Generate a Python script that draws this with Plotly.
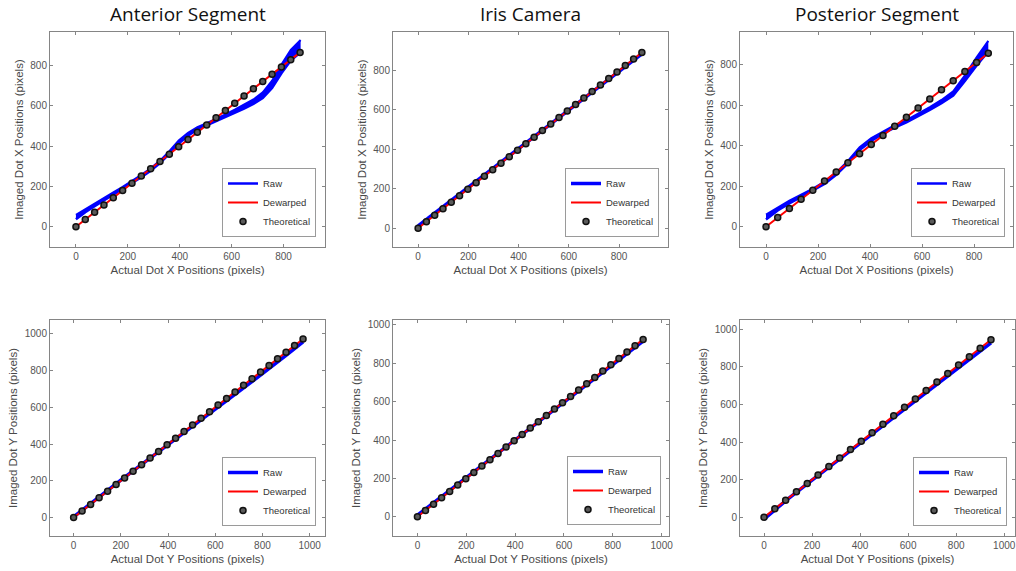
import plotly.graph_objects as go

# ---------------- data ----------------
# Anterior segment, X
ant_x_theo = [0, 36, 72, 108, 144, 180, 216, 252, 288, 324, 360, 396, 432, 468, 504,
              540, 576, 612, 648, 684, 720, 756, 792, 828, 864]
ant_x_raw_x = [0, 36, 72, 108, 144, 180, 216, 252, 288, 324, 360, 396, 432, 468, 504,
               540, 576, 612, 648, 684, 720, 756, 792, 828, 866]
ant_x_raw_lo = [37, 72, 102, 130, 159, 186, 214, 246, 278, 316, 361, 412, 451, 482, 502,
                522, 543, 564, 586, 609, 638, 688, 760, 824, 865]
ant_x_raw_hi = [59, 88, 114, 142, 171, 198, 226, 258, 290, 328, 375, 428, 465, 494, 514,
                534, 557, 580, 604, 631, 666, 724, 804, 876, 925]

# Iris camera, X
iris_x_theo = [0, 33, 66, 99, 132, 165, 198, 231, 264, 297, 330, 363, 396, 429, 462,
               495, 528, 561, 594, 627, 660, 693, 726, 759, 792, 825, 858, 891]
iris_x_raw_x = [0, 100, 200, 300, 400, 500, 600, 700, 800, 891]
iris_x_raw_y = [12, 110, 207, 305, 403, 500, 598, 696, 793, 884]

# Posterior segment, X
post_x_theo = [0, 45, 90, 135, 180, 225, 270, 315, 360, 405, 450, 495, 540, 585, 630,
               675, 720, 765, 810, 855]
post_x_raw_x = [0, 45, 90, 135, 180, 225, 270, 315, 360, 405, 450, 495, 540, 585, 630,
                675, 720, 765, 810, 855]
post_x_raw_lo = [36, 80, 115, 146, 176, 211, 256, 312, 378, 423, 459, 489, 514, 544, 576,
                 609, 647, 718, 795, 864]
post_x_raw_hi = [60, 96, 129, 158, 188, 223, 268, 324, 392, 437, 471, 501, 526, 556, 590,
                 625, 667, 746, 835, 916]

# Anterior segment, Y
ant_y_theo = [0, 36, 72, 108, 144, 180, 216, 252, 288, 324, 360, 396, 432, 468, 504,
              540, 576, 612, 648, 684, 720, 756, 792, 828, 864, 900, 936, 972]
ant_y_raw_x = [0, 100, 200, 300, 400, 500, 600, 700, 800, 900, 972]
ant_y_raw_y = [4, 106, 204, 300, 396, 492, 589, 686, 783, 882, 956]

# Iris camera, Y
iris_y_theo = [0, 33, 66, 99, 132, 165, 198, 231, 264, 297, 330, 363, 396, 429, 462,
               495, 528, 561, 594, 627, 660, 693, 726, 759, 792, 825, 858, 891, 924]
iris_y_raw_x = [0, 100, 200, 300, 400, 500, 600, 700, 800, 924]
iris_y_raw_y = [8, 107, 205, 303, 401, 499, 597, 695, 793, 915]

# Posterior segment, Y
post_y_theo = [0, 45, 90, 135, 180, 225, 270, 315, 360, 405, 450, 495, 540, 585, 630,
               675, 720, 765, 810, 855, 900, 945]
post_y_raw_x = [0, 100, 200, 300, 400, 500, 600, 700, 800, 900, 945]
post_y_raw_y = [-10, 98, 198, 296, 394, 491, 588, 684, 782, 880, 928]

titles = ["Anterior Segment", "Iris Camera", "Posterior Segment"]
x_label_top = "Actual Dot X Positions (pixels)"
y_label_top = "Imaged Dot X Positions (pixels)"
x_label_bot = "Actual Dot Y Positions (pixels)"
y_label_bot = "Imaged Dot Y Positions (pixels)"

# ---------------- styling ----------------
W, H = 1016, 571
BLUE = "#0000ff"
RED = "#ff0000"
AXC = "#858585"
TICKC = "#555555"
LABC = "#4a4a4a"
FONT = "Liberation Sans, Arial, sans-serif"

# pixel boxes: (left, right, top, bottom)
boxes = [
    (50, 325, 32, 247), (393, 668, 32, 247), (740, 1013, 32, 247),
    (50, 325, 320, 536), (393, 669, 320, 536), (740, 1015, 320, 536),
]
ranges = [
    ([-100, 960], [-100, 965]),
    ([-100, 995], [-95, 995]),
    ([-100, 950], [-100, 960]),
    ([-100, 1065], [-100, 1075]),
    ([-100, 1030], [-100, 1025]),
    ([-100, 1045], [-100, 1050]),
]
xticks = [[0, 200, 400, 600, 800]] * 3 + [[0, 200, 400, 600, 800, 1000]] * 3
yticks = [[0, 200, 400, 600, 800]] * 3 + [[0, 200, 400, 600, 800, 1000]] * 3
legend_pos = [(316, 237), (659, 237), (1005, 237), (316, 526), (661, 525), (1007, 526)]

fig = go.Figure()

panels = [
    dict(theo=ant_x_theo, band=(ant_x_raw_x, ant_x_raw_lo, ant_x_raw_hi)),
    dict(theo=iris_x_theo, line=(iris_x_raw_x, iris_x_raw_y)),
    dict(theo=post_x_theo, band=(post_x_raw_x, post_x_raw_lo, post_x_raw_hi)),
    dict(theo=ant_y_theo, line=(ant_y_raw_x, ant_y_raw_y)),
    dict(theo=iris_y_theo, line=(iris_y_raw_x, iris_y_raw_y)),
    dict(theo=post_y_theo, line=(post_y_raw_x, post_y_raw_y)),
]

for i, p in enumerate(panels):
    n = i + 1
    xa = "x" if n == 1 else f"x{n}"
    ya = "y" if n == 1 else f"y{n}"
    lg = "legend" if n == 1 else f"legend{n}"
    if "band" in p:
        bx, blo, bhi = p["band"]
        fig.add_trace(go.Scatter(x=bx, y=blo, mode="lines", name="Raw",
                                 line=dict(color=BLUE, width=2.5),
                                 xaxis=xa, yaxis=ya, legend=lg, legendrank=1))
        fig.add_trace(go.Scatter(x=bx, y=bhi, mode="lines", name="Raw",
                                 line=dict(color=BLUE, width=2), fill="tonexty",
                                 fillcolor=BLUE, showlegend=False,
                                 xaxis=xa, yaxis=ya, legend=lg))
    else:
        rx, ry = p["line"]
        fig.add_trace(go.Scatter(x=rx, y=ry, mode="lines", name="Raw",
                                 line=dict(color=BLUE, width=3.5),
                                 xaxis=xa, yaxis=ya, legend=lg, legendrank=1))
    t = p["theo"]
    fig.add_trace(go.Scatter(x=t, y=t, mode="lines", name="Dewarped",
                             line=dict(color=RED, width=2),
                             xaxis=xa, yaxis=ya, legend=lg, legendrank=2))
    fig.add_trace(go.Scatter(x=t, y=t, mode="markers", name="Theoretical",
                             marker=dict(symbol="circle", size=6, color="#5a5a5a",
                                         line=dict(color="#111111", width=1.5)),
                             xaxis=xa, yaxis=ya, legend=lg, legendrank=3))

layout = dict(
    width=W, height=H,
    margin=dict(l=0, r=0, t=0, b=0),
    paper_bgcolor="white", plot_bgcolor="white",
    font=dict(family=FONT, size=10, color=TICKC),
)

for i in range(6):
    n = i + 1
    l, r, t, b = boxes[i]
    xr, yr = ranges[i]
    top = i < 3
    axcommon = dict(showline=True, linecolor=AXC, linewidth=1, mirror="ticks",
                    ticks="inside", ticklen=3, tickcolor=AXC, tickwidth=1,
                    showgrid=False, zeroline=False, automargin=False,
                    tickfont=dict(family=FONT, size=10, color=TICKC))
    xkey = "xaxis" if n == 1 else f"xaxis{n}"
    ykey = "yaxis" if n == 1 else f"yaxis{n}"
    layout[xkey] = dict(axcommon, domain=[l / W, r / W], range=xr,
                        tickvals=xticks[i], anchor="y" if n == 1 else f"y{n}",
                        title=dict(text=x_label_top if top else x_label_bot,
                                   font=dict(family=FONT, size=11.5, color=LABC),
                                   standoff=4))
    layout[ykey] = dict(axcommon, domain=[1 - b / H, 1 - t / H], range=yr,
                        tickvals=yticks[i], anchor="x" if n == 1 else f"x{n}",
                        title=dict(text=y_label_top if top else y_label_bot,
                                   font=dict(family=FONT, size=11.5, color=LABC),
                                   standoff=4))
    lkey = "legend" if n == 1 else f"legend{n}"
    lx, ly = legend_pos[i]
    layout[lkey] = dict(x=lx / W, y=1 - ly / H, xanchor="right", yanchor="bottom",
                        xref="paper", yref="paper",
                        bgcolor="white", bordercolor="#9a9a9a", borderwidth=1,
                        font=dict(family=FONT, size=9.5, color="#333333"),
                        itemwidth=30, tracegroupgap=0, traceorder="normal")

centers = [(50 + 325) / 2, (393 + 668) / 2, (740 + 1013) / 2]
layout["annotations"] = [
    dict(text=titles[k], x=centers[k] / W, y=1 - 14 / H, xref="paper", yref="paper",
         xanchor="center", yanchor="middle", showarrow=False,
         font=dict(family="Open Sans, Noto Sans, sans-serif", size=19, color="#111111"))
    for k in range(3)
]

fig.update_layout(**layout)
fig.write_html("out.html", config={"displayModeBar": False},
               post_script="document.body.style.margin='0px';document.body.style.padding='0px';")
